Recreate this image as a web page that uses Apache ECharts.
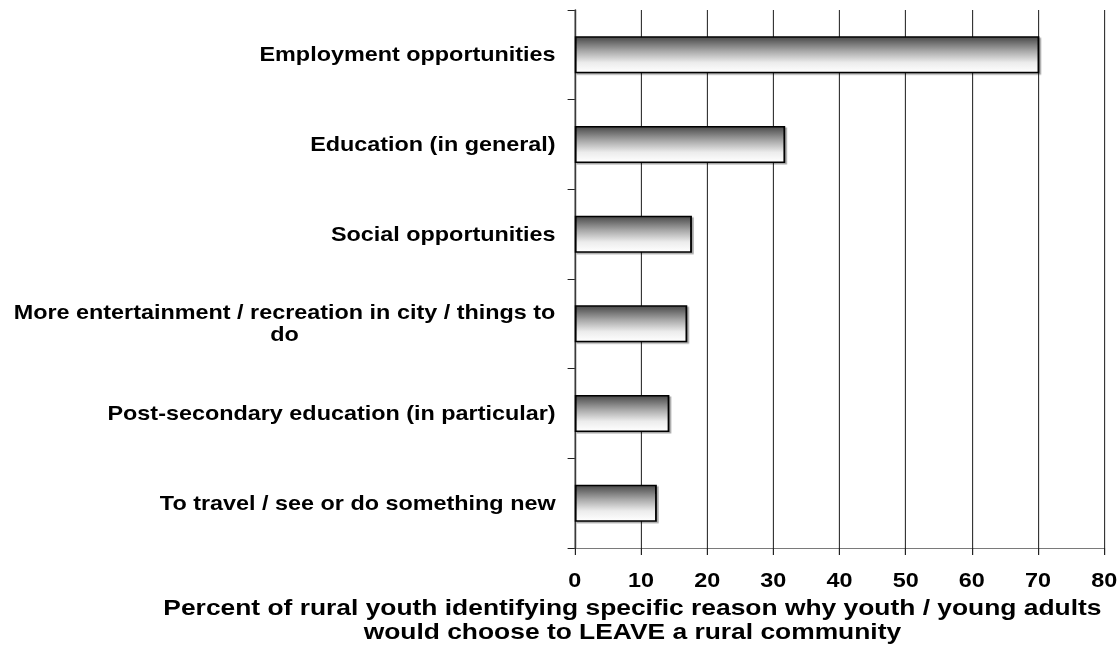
<!DOCTYPE html>
<html>
<head>
<meta charset="utf-8">
<script src="https://cdn.jsdelivr.net/npm/echarts@6/dist/echarts.min.js"></script>
<style>
  html, body { margin: 0; padding: 0; background: #fff; overflow: hidden; }
  #wrap { width: 1120px; height: 671px; overflow: hidden; }
  /* The chart is laid out narrower and widened horizontally, giving the wide bold lettering */
  #chart { width: 934px; height: 671px; transform: scaleX(1.2); transform-origin: 0 0; }
</style>
</head>
<body>
<div id="wrap"><div id="chart"></div></div>
<script>
// Reasons why youth would leave a rural community (top to bottom)
const categories = [
  'Employment opportunities',
  'Education (in general)',
  'Social opportunities',
  'More entertainment / recreation in city / things to do',
  'Post-secondary education (in particular)',
  'To travel / see or do something new'
];
// Percent of rural youth naming each reason
const percentValues = [70.2, 31.8, 17.7, 17.0, 14.3, 12.4];
// Value axis range and step
const axisMin = 0;
const axisMax = 80;
const axisStep = 10;
const axisTitle = 'Percent of rural youth identifying specific reason why youth / young adults\nwould choose to LEAVE a rural community';

const FONT = '"Liberation Sans", Arial, sans-serif';

// Wrap long category names; wrapped lines are centred on each other
function wrapLabel(name) {
  const maxChars = 52;
  if (name.length <= maxChars) return name;
  const words = name.split(' ');
  const lines = [];
  let cur = '';
  words.forEach(w => {
    const next = cur ? cur + ' ' + w : w;
    if (next.length > maxChars && cur) { lines.push(cur); cur = w; }
    else cur = next;
  });
  if (cur) lines.push(cur);
  return lines.map(l => '{c|' + l + '}').join('\n');
}

const chart = echarts.init(document.getElementById('chart'), null, { renderer: 'svg' });

chart.setOption({
  backgroundColor: '#ffffff',
  animation: false,
  grid: { left: 479, right: 11, top: 10, bottom: 123, containLabel: false },
  xAxis: {
    type: 'value',
    min: axisMin,
    max: axisMax,
    interval: axisStep,
    axisLine: { show: true, lineStyle: { color: '#7a7a7a', width: 1 } },
    axisTick: { show: true, length: 7, lineStyle: { color: '#222', width: 1 } },
    axisLabel: {
      margin: 23,
      color: '#000',
      fontFamily: FONT,
      fontWeight: 'bold',
      fontSize: 19.5
    },
    splitLine: { show: true, lineStyle: { color: '#2a2a2a', width: 0.9 } }
  },
  yAxis: {
    type: 'category',
    inverse: true,
    data: categories,
    axisLine: { show: true, lineStyle: { color: '#3a3a3a', width: 1.4 } },
    axisTick: { show: true, length: 6, alignWithLabel: false, lineStyle: { color: '#222', width: 1 } },
    axisLabel: {
      margin: 16,
      color: '#000',
      fontFamily: FONT,
      fontWeight: 'bold',
      fontSize: 19.5,
      formatter: wrapLabel,
      rich: {
        c: {
          align: 'center',
          fontFamily: FONT,
          fontWeight: 'bold',
          fontSize: 19.5,
          lineHeight: 22,
          color: '#000'
        }
      }
    },
    splitLine: { show: false }
  },
  series: [{
    type: 'bar',
    data: percentValues,
    barWidth: 37,
    itemStyle: {
      color: {
        type: 'linear', x: 0, y: 0, x2: 0, y2: 1,
        colorStops: [
          { offset: 0, color: '#4a4a4a' },
          { offset: 0.4, color: '#a9a9a9' },
          { offset: 0.72, color: '#ececec' },
          { offset: 1, color: '#ffffff' }
        ]
      },
      borderColor: '#000',
      borderWidth: 1.5,
      shadowColor: 'rgba(0,0,0,0.35)',
      shadowOffsetX: 1.5,
      shadowOffsetY: 1.5,
      shadowBlur: 1
    }
  }],
  graphic: [{
    type: 'text',
    x: 527,
    y: 595,
    style: {
      text: axisTitle,
      align: 'center',
      verticalAlign: 'top',
      font: 'bold 22px ' + FONT,
      lineHeight: 24,
      fill: '#000'
    }
  }]
});
</script>
</body>
</html>
